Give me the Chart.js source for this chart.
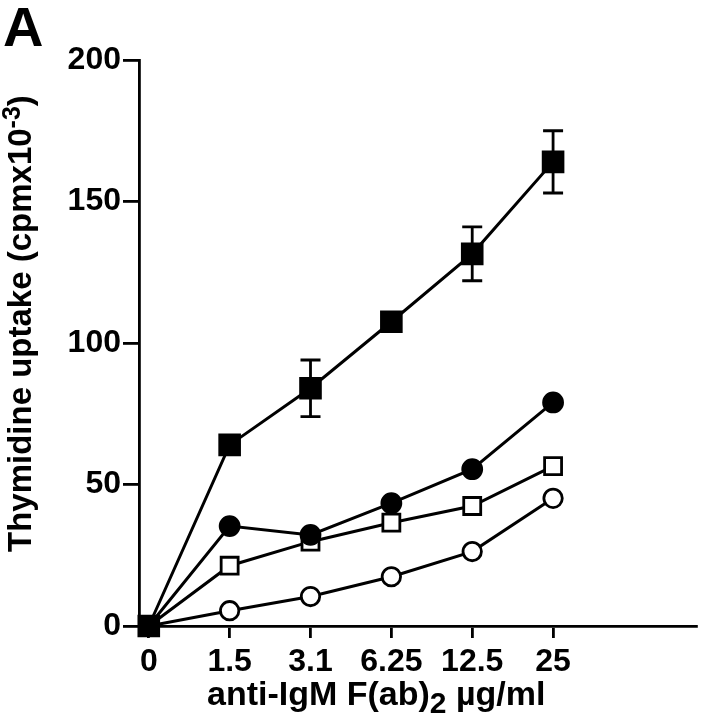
<!DOCTYPE html>
<html>
<head>
<meta charset="utf-8">
<script src="https://cdn.jsdelivr.net/npm/chart.js@4.4.1/dist/chart.umd.min.js"></script>
<style>
  html, body { margin: 0; padding: 0; background: #fff; }
  #wrap { width: 713px; height: 719px; }
</style>
</head>
<body>
<div id="wrap"><canvas id="chart" width="713" height="719"></canvas></div>
<script>
// ------------------------
// DATA
// ------------------------
const doseLabels = ["0", "1.5", "3.1", "6.25", "12.5", "25"];
const filledSquare = [0, 64, 84, 107.5, 131.5, 164];
const filledSquareErr = [0, 0, 10, 0, 9.5, 11];
const filledCircle = [0, 35.3, 32.2, 43.4, 55.4, 79];
const openSquare = [0, 21.3, 29.8, 36.5, 42.4, 56.5];
const openCircle = [0, 5.4, 10.4, 17.4, 26.3, 45.1];
const yTicks = [0, 50, 100, 150, 200];

const FONT = '"Liberation Sans", Arial, Helvetica, sans-serif';

function pts(values) {
  return values.map((v, i) => ({ x: i, y: v }));
}

// error bars + titles, placed with the chart's own scales
const extras = {
  id: "extras",
  beforeDatasetsDraw(chart) {
    const { ctx, scales: { x, y } } = chart;
    ctx.save();
    ctx.strokeStyle = "#000";
    ctx.lineWidth = 2.8;
    filledSquare.forEach((v, i) => {
      const e = filledSquareErr[i];
      if (!e) return;
      const px = x.getPixelForValue(i);
      const top = y.getPixelForValue(v + e);
      const bot = y.getPixelForValue(v - e);
      ctx.beginPath();
      ctx.moveTo(px, top); ctx.lineTo(px, bot);
      ctx.moveTo(px - 10, top); ctx.lineTo(px + 10, top);
      ctx.moveTo(px - 10, bot); ctx.lineTo(px + 10, bot);
      ctx.stroke();
    });
    ctx.restore();
  },
  afterDraw(chart) {
    const { ctx } = chart;
    ctx.save();
    ctx.fillStyle = "#000";
    ctx.textBaseline = "alphabetic";
    ctx.textAlign = "left";

    // panel letter
    ctx.font = "bold 56px " + FONT;
    ctx.fillText("A", 3, 46);

    // x title with subscript
    let cx = 207;
    const by = 705;
    ctx.font = "bold 34px " + FONT;
    ctx.fillText("anti-IgM F(ab)", cx, by);
    cx += ctx.measureText("anti-IgM F(ab)").width;
    ctx.font = "bold 30px " + FONT;
    ctx.fillText("2", cx, by + 8);
    cx += ctx.measureText("2").width;
    ctx.font = "bold 34px " + FONT;
    ctx.fillText(" \u00b5g/ml", cx, by);

    // y title with superscript
    ctx.translate(31, 552);
    ctx.rotate(-Math.PI / 2);
    let ty = 0;
    ctx.font = "bold 33px " + FONT;
    ctx.fillText("Thymidine uptake (cpmx10", ty, 0);
    ty += ctx.measureText("Thymidine uptake (cpmx10").width;
    ctx.font = "bold 25px " + FONT;
    ctx.fillText("-3", ty, -11);
    ty += ctx.measureText("-3").width;
    ctx.font = "bold 33px " + FONT;
    ctx.fillText(")", ty, 0);
    ctx.restore();
  }
};

const lineBase = {
  borderColor: "#000",
  borderWidth: 3,
  pointBorderColor: "#000",
  pointBorderWidth: 2.8,
  tension: 0,
  clip: false,
  fill: false
};

new Chart(document.getElementById("chart"), {
  type: "line",
  data: {
    datasets: [
      { ...lineBase, label: "filled square", data: pts(filledSquare), pointStyle: "rect", pointRadius: 14, pointBackgroundColor: "#000" },
      { ...lineBase, label: "filled circle", data: pts(filledCircle), pointStyle: "circle", pointRadius: 9.5, pointBackgroundColor: "#000" },
      { ...lineBase, label: "open square", data: pts(openSquare), pointStyle: "rect", pointRadius: 12, pointBackgroundColor: "#fff" },
      { ...lineBase, label: "open circle", data: pts(openCircle), pointStyle: "circle", pointRadius: 9.2, pointBackgroundColor: "#fff" }
    ]
  },
  options: {
    responsive: false,
    animation: false,
    layout: { padding: { left: 0, right: 4, top: 60, bottom: 0 } },
    plugins: {
      legend: { display: false },
      tooltip: { enabled: false }
    },
    scales: {
      x: {
        type: "linear",
        min: -0.121,
        max: 6.77,
        afterBuildTicks: (scale) => {
          scale.ticks = doseLabels.map((_, i) => ({ value: i }));
        },
        afterFit: (scale) => { scale.height = 93; },
        ticks: {
          callback: (v) => doseLabels[v] ?? "",
          color: "#000",
          padding: 5,
          maxRotation: 0,
          autoSkip: false,
          font: { family: FONT, size: 32, weight: "bold" }
        },
        grid: { drawOnChartArea: false, drawTicks: true, tickLength: 12, color: "#000", lineWidth: 2.8 },
        border: { display: true, color: "#000", width: 2.8 }
      },
      y: {
        min: 0,
        max: 200,
        afterBuildTicks: (scale) => {
          scale.ticks = yTicks.map((v) => ({ value: v }));
        },
        afterFit: (scale) => { scale.width = 139; },
        ticks: {
          color: "#000",
          padding: 2,
          font: { family: FONT, size: 32, weight: "bold" }
        },
        grid: { drawOnChartArea: false, drawTicks: true, tickLength: 16, color: "#000", lineWidth: 2.8 },
        border: { display: true, color: "#000", width: 2.8 }
      }
    }
  },
  plugins: [extras]
});
</script>
</body>
</html>
